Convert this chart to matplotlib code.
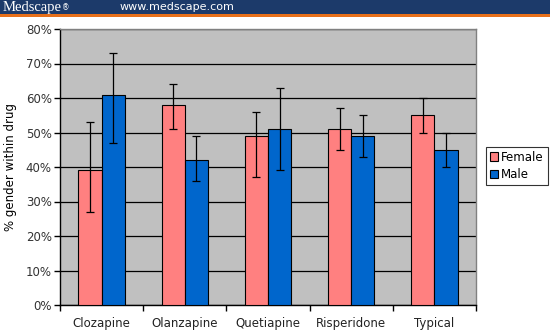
import matplotlib
matplotlib.use("Agg")
import matplotlib.pyplot as plt
import numpy as np
from matplotlib.patches import Rectangle

categories = ["Clozapine", "Olanzapine", "Quetiapine", "Risperidone", "Typical"]
female = [39, 58, 49, 51, 55]
female_low = [27, 51, 37, 45, 50]
female_high = [53, 64, 56, 57, 60]
male = [61, 42, 51, 49, 45]
male_low = [47, 36, 39, 43, 40]
male_high = [73, 49, 63, 55, 50]
yticks = [0, 10, 20, 30, 40, 50, 60, 70, 80]

W, H = 550, 334
fig = plt.figure(figsize=(W / 100, H / 100), dpi=100)
fig.patch.set_facecolor("white")

# header bar
fig.patches.append(Rectangle((0, 1 - 14.5 / H), 1, 14.5 / H, transform=fig.transFigure,
                             facecolor="#1c3a6a", edgecolor="none", zorder=0))
fig.patches.append(Rectangle((0, 1 - 16.5 / H), 1, 2.0 / H, transform=fig.transFigure,
                             facecolor="#e8701a", edgecolor="none", zorder=0))
fig.text(3 / W, 1 - 7.5 / H, "Medscape", color="white", fontsize=10.5,
         family="Liberation Serif", va="center", ha="left")
fig.text(62 / W, 1 - 8 / H, "®", color="white", fontsize=5.5,
         family="DejaVu Sans", va="center", ha="left")
fig.text(120 / W, 1 - 7.5 / H, "www.medscape.com", color="white", fontsize=8,
         family="DejaVu Sans", va="center", ha="left")

ax = fig.add_axes([60 / W, 29 / H, 416 / W, 276 / H])
ax.set_facecolor("#c0c0c0")

x = np.arange(len(categories))
bw = 0.28
f = np.array(female); m = np.array(male)
ferr = [f - np.array(female_low), np.array(female_high) - f]
merr = [m - np.array(male_low), np.array(male_high) - m]

ax.bar(x - bw / 2, f, bw, color="#ff8080", edgecolor="black", linewidth=0.8,
       label="Female", zorder=3)
ax.bar(x + bw / 2, m, bw, color="#0066cc", edgecolor="black", linewidth=0.8,
       label="Male", zorder=3)
ax.errorbar(x - bw / 2, f, yerr=ferr, fmt="none", ecolor="black", elinewidth=0.9,
            capsize=3, capthick=0.9, zorder=4)
ax.errorbar(x + bw / 2, m, yerr=merr, fmt="none", ecolor="black", elinewidth=0.9,
            capsize=3, capthick=0.9, zorder=4)

ax.set_xlim(-0.5, len(categories) - 0.5)
ax.set_ylim(0, 80)
ax.set_yticks(yticks)
ax.set_yticklabels([f"{v}%" for v in yticks], fontsize=8.5, color="#333333")
ax.yaxis.grid(True, color="black", linewidth=0.9, zorder=1)
ax.set_axisbelow(True)

ax.set_xticks(x)
ax.set_xticklabels(categories, fontsize=8.5, color="#222222")
ax.tick_params(axis="x", which="major", length=0, pad=9)
ax.set_xticks(np.arange(-0.5, len(categories)), minor=True)
ax.tick_params(axis="x", which="minor", length=4, width=1, color="black")
ax.tick_params(axis="y", length=4, width=1, color="black", pad=2)

for s in ["top", "right"]:
    ax.spines[s].set_color("#808080")
    ax.spines[s].set_linewidth(1)
for s in ["left", "bottom"]:
    ax.spines[s].set_color("black")
    ax.spines[s].set_linewidth(1)

ax.set_ylabel("% gender within drug", fontsize=8.5, color="black", labelpad=6)

leg = ax.legend(loc="upper left", bbox_to_anchor=(486 / W, 1 - 147 / H),
                bbox_transform=fig.transFigure, fontsize=8.5, frameon=True,
                fancybox=False, edgecolor="black", handlelength=0.7,
                handleheight=0.7, handletextpad=0.3, borderpad=0.3,
                labelspacing=0.4, borderaxespad=0)
leg.get_frame().set_linewidth(0.8)

fig.savefig("out.png", dpi=100, facecolor="white")
